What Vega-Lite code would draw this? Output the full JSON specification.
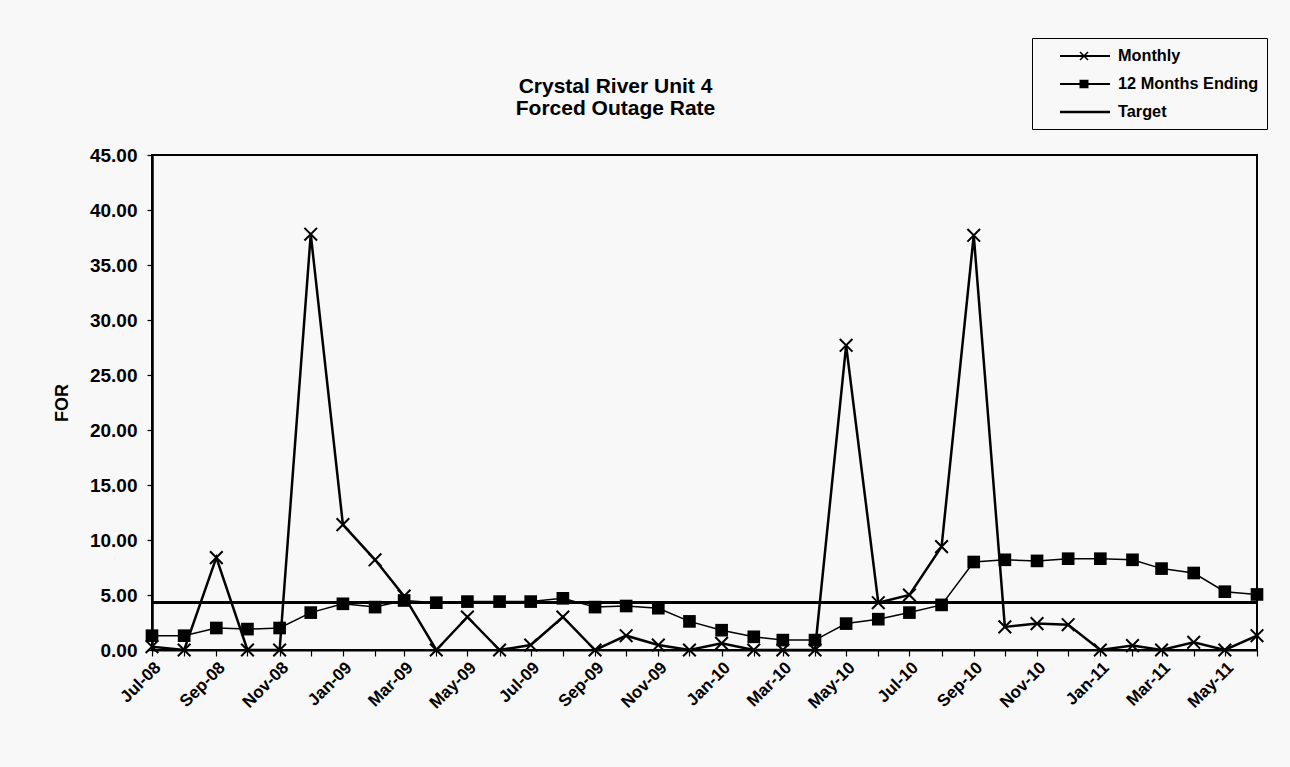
{
  "$schema": "https://vega.github.io/schema/vega-lite/v6.json",
  "width": 1105,
  "height": 495,
  "autosize": {"type": "none"},
  "padding": {"left": 152, "top": 155, "right": 33, "bottom": 117},
  "background": "#f8f8f8",
  "title": {
    "text": ["Crystal River Unit 4", "Forced Outage Rate"],
    "anchor": "middle",
    "frame": "group",
    "dx": -89,
    "offset": -81,
    "font": "Liberation Sans",
    "fontSize": 21,
    "fontWeight": "bold",
    "lineHeight": 22,
    "color": "black"
  },
  "config": {
    "font": "Liberation Sans",
    "view": {"stroke": "black", "strokeWidth": 2},
    "axis": {
      "domainColor": "black",
      "tickColor": "black",
      "labelColor": "black",
      "titleColor": "black",
      "labelFont": "Liberation Sans",
      "titleFont": "Liberation Sans",
      "labelFontWeight": "bold",
      "titleFontWeight": "bold",
      "grid": false
    }
  },
  "data": {
    "values": [
      {"date": "2008-07-01", "Monthly": 0.3, "12 Months Ending": 1.3, "Target": 4.32},
      {"date": "2008-08-01", "Monthly": 0.0, "12 Months Ending": 1.3, "Target": 4.32},
      {"date": "2008-09-01", "Monthly": 8.4, "12 Months Ending": 2.0, "Target": 4.32},
      {"date": "2008-10-01", "Monthly": 0.0, "12 Months Ending": 1.9, "Target": 4.32},
      {"date": "2008-11-01", "Monthly": 0.0, "12 Months Ending": 2.0, "Target": 4.32},
      {"date": "2008-12-01", "Monthly": 37.8, "12 Months Ending": 3.4, "Target": 4.32},
      {"date": "2009-01-01", "Monthly": 11.4, "12 Months Ending": 4.2, "Target": 4.32},
      {"date": "2009-02-01", "Monthly": 8.2, "12 Months Ending": 3.9, "Target": 4.32},
      {"date": "2009-03-01", "Monthly": 4.9, "12 Months Ending": 4.5, "Target": 4.32},
      {"date": "2009-04-01", "Monthly": 0.0, "12 Months Ending": 4.3, "Target": 4.32},
      {"date": "2009-05-01", "Monthly": 3.0, "12 Months Ending": 4.4, "Target": 4.32},
      {"date": "2009-06-01", "Monthly": 0.0, "12 Months Ending": 4.4, "Target": 4.32},
      {"date": "2009-07-01", "Monthly": 0.45, "12 Months Ending": 4.4, "Target": 4.32},
      {"date": "2009-08-01", "Monthly": 3.0, "12 Months Ending": 4.7, "Target": 4.32},
      {"date": "2009-09-01", "Monthly": 0.0, "12 Months Ending": 3.9, "Target": 4.32},
      {"date": "2009-10-01", "Monthly": 1.3, "12 Months Ending": 4.0, "Target": 4.32},
      {"date": "2009-11-01", "Monthly": 0.45, "12 Months Ending": 3.8, "Target": 4.32},
      {"date": "2009-12-01", "Monthly": 0.0, "12 Months Ending": 2.6, "Target": 4.32},
      {"date": "2010-01-01", "Monthly": 0.6, "12 Months Ending": 1.8, "Target": 4.32},
      {"date": "2010-02-01", "Monthly": 0.0, "12 Months Ending": 1.2, "Target": 4.32},
      {"date": "2010-03-01", "Monthly": 0.0, "12 Months Ending": 0.9, "Target": 4.32},
      {"date": "2010-04-01", "Monthly": 0.0, "12 Months Ending": 0.9, "Target": 4.32},
      {"date": "2010-05-01", "Monthly": 27.7, "12 Months Ending": 2.4, "Target": 4.32},
      {"date": "2010-06-01", "Monthly": 4.3, "12 Months Ending": 2.8, "Target": 4.32},
      {"date": "2010-07-01", "Monthly": 5.0, "12 Months Ending": 3.4, "Target": 4.32},
      {"date": "2010-08-01", "Monthly": 9.4, "12 Months Ending": 4.1, "Target": 4.32},
      {"date": "2010-09-01", "Monthly": 37.7, "12 Months Ending": 8.0, "Target": 4.32},
      {"date": "2010-10-01", "Monthly": 2.1, "12 Months Ending": 8.2, "Target": 4.32},
      {"date": "2010-11-01", "Monthly": 2.4, "12 Months Ending": 8.1, "Target": 4.32},
      {"date": "2010-12-01", "Monthly": 2.3, "12 Months Ending": 8.3, "Target": 4.32},
      {"date": "2011-01-01", "Monthly": 0.0, "12 Months Ending": 8.3, "Target": 4.32},
      {"date": "2011-02-01", "Monthly": 0.4, "12 Months Ending": 8.2, "Target": 4.32},
      {"date": "2011-03-01", "Monthly": 0.0, "12 Months Ending": 7.4, "Target": 4.32},
      {"date": "2011-04-01", "Monthly": 0.7, "12 Months Ending": 7.0, "Target": 4.32},
      {"date": "2011-05-01", "Monthly": 0.0, "12 Months Ending": 5.3, "Target": 4.32},
      {"date": "2011-06-01", "Monthly": 1.3, "12 Months Ending": 5.05, "Target": 4.32}
    ]
  },
  "transform": [
    {"fold": ["Monthly", "12 Months Ending", "Target"], "as": ["series", "value"]}
  ],
  "encoding": {
    "x": {
      "field": "date",
      "type": "temporal",
      "scale": {"type": "utc", "nice": false},
      "axis": {
        "title": null,
        "tickCount": {"interval": "month", "step": 1},
        "labelExpr": "utcmonth(datum.value) % 2 == 0 ? utcFormat(datum.value, '%b-%y') : ''",
        "labelAngle": -45,
        "labelFontSize": 17,
        "labelOverlap": false,
        "labelPadding": 3,
        "tickSize": 6,
        "domainWidth": 2,
        "tickWidth": 1.2
      }
    },
    "y": {
      "field": "value",
      "type": "quantitative",
      "scale": {"domain": [0, 45], "nice": false, "zero": true},
      "axis": {
        "title": "FOR",
        "titleFontSize": 18,
        "titlePadding": 18,
        "values": [0, 5, 10, 15, 20, 25, 30, 35, 40, 45],
        "format": ".2f",
        "labelFontSize": 19,
        "labelPadding": 10,
        "tickSize": 5,
        "domainWidth": 2.5,
        "tickWidth": 1.2
      }
    }
  },
  "layer": [
    {
      "transform": [{"filter": "datum.series == 'Target'"}],
      "mark": {"type": "line", "color": "black", "strokeWidth": 3},
      "encoding": {}
    },
    {
      "transform": [{"filter": "datum.series == '12 Months Ending'"}],
      "mark": {"type": "line", "color": "black", "strokeWidth": 1.5},
      "encoding": {}
    },
    {
      "transform": [{"filter": "datum.series == 'Monthly'"}],
      "mark": {"type": "line", "color": "black", "strokeWidth": 2.5},
      "encoding": {}
    },
    {
      "transform": [{"filter": "datum.series == '12 Months Ending'"}],
      "mark": {"type": "point", "shape": "square", "filled": true, "color": "black", "size": 160, "opacity": 1},
      "encoding": {}
    },
    {
      "transform": [{"filter": "datum.series == 'Monthly'"}],
      "mark": {"type": "point", "shape": "M-1,-1L1,1M-1,1L1,-1", "filled": false, "color": "black", "strokeWidth": 2, "size": 160, "opacity": 1},
      "encoding": {}
    },
    {
      "mark": {"type": "point", "filled": true, "color": "black", "opacity": 0},
      "encoding": {
        "shape": {
          "field": "series",
          "type": "nominal",
          "scale": {
            "domain": ["Monthly", "12 Months Ending", "Target"],
            "range": [
              "M1,-0.09V0.09H6V-0.09Z M2.943,-0.343L3.743,0.457L3.857,0.343L3.057,-0.457Z M3.057,0.457L3.857,-0.343L3.743,-0.457L2.943,0.343Z",
              "M1,-0.09V0.09H6V-0.09Z M2.95,-0.42V0.42H3.85V-0.42Z",
              "M1,-0.12V0.12H6V-0.12Z"
            ]
          },
          "legend": {
            "title": null,
            "orient": "none",
            "legendX": 880,
            "legendY": -117,
            "strokeColor": "black",
            "padding": 8,
            "rowPadding": 9,
            "labelFontSize": 16.3,
            "labelFontWeight": "bold",
            "labelColor": "black",
            "labelFont": "Liberation Sans",
            "labelOffset": 58,
            "symbolSize": 400,
            "symbolOpacity": 1,
            "symbolFillColor": "black",
            "symbolStrokeColor": "black",
            "symbolStrokeWidth": 0
          }
        }
      }
    }
  ]
}
